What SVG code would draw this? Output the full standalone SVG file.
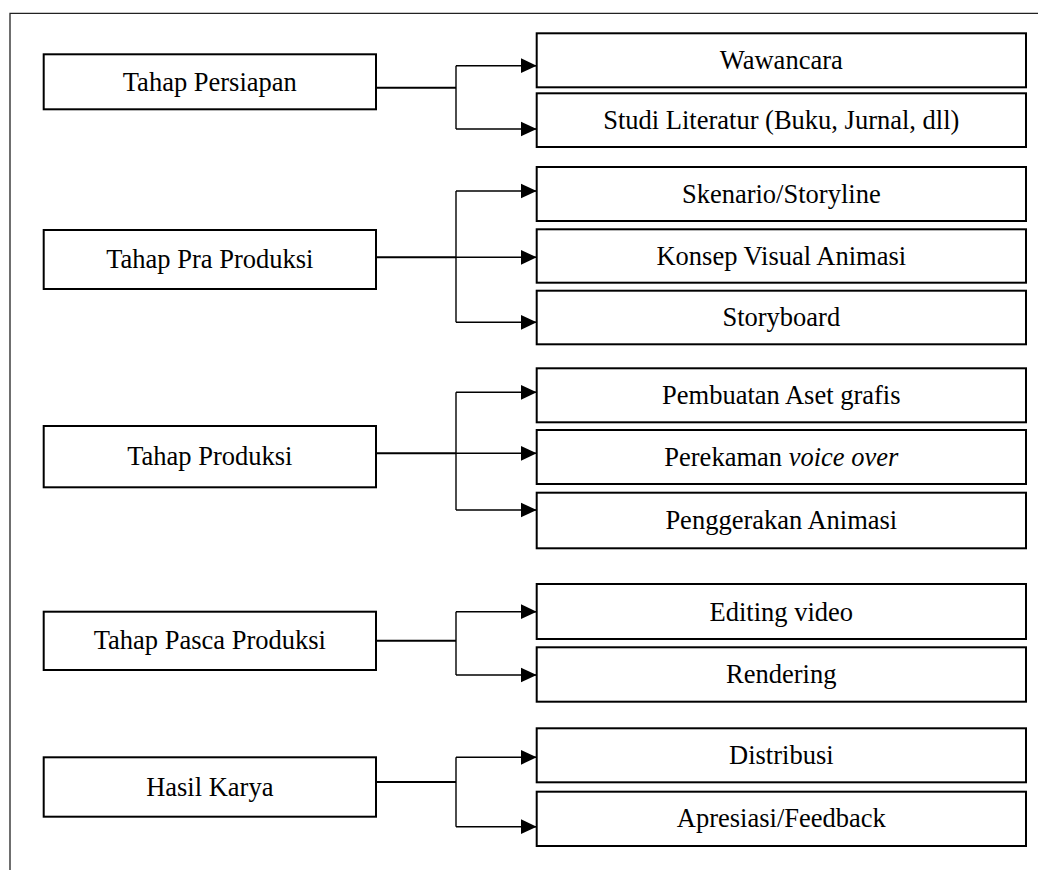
<svg xmlns="http://www.w3.org/2000/svg" width="1038" height="870" viewBox="0 0 1038 870">
<defs>
<style>
.box{fill:#fff;stroke:#000;stroke-width:2}
.t{font-family:"Liberation Serif","Times New Roman",serif;font-size:26.5px;fill:#000;text-anchor:middle}
.main{fill:none;stroke:#000;stroke-width:2}
.br{fill:none;stroke:#000;stroke-width:1.4}
.arr{fill:none;stroke:#000;stroke-width:1.4;marker-end:url(#ah)}
</style>
<marker id="ah" markerUnits="userSpaceOnUse" markerWidth="16" markerHeight="16" viewBox="0 0 16 16" refX="16" refY="8" orient="auto">
<path d="M0,0.5 L16,8 L0,15.5 z" fill="#000"/>
</marker>
</defs>
<rect width="1038" height="870" fill="#fff"/>
<path d="M10,870 V13.3 H1038" fill="none" stroke="#222" stroke-width="1.3"/>

<g id="connectors">
<path class="main" d="M376,87.7 H456"/>
<path class="br" d="M456,65.7 V129"/>
<path class="arr" d="M456,65.7 H536.7"/>
<path class="arr" d="M456,129 H536.7"/>

<path class="main" d="M376,257.3 H456"/>
<path class="br" d="M456,191 V322.3"/>
<path class="arr" d="M456,191 H536.7"/>
<path class="arr" d="M456,257.3 H536.7"/>
<path class="arr" d="M456,322.3 H536.7"/>

<path class="main" d="M376,453.3 H456"/>
<path class="br" d="M456,392.3 V510"/>
<path class="arr" d="M456,392.3 H536.7"/>
<path class="arr" d="M456,453.3 H536.7"/>
<path class="arr" d="M456,510 H536.7"/>

<path class="main" d="M376,640.7 H456"/>
<path class="br" d="M456,611.7 V675"/>
<path class="arr" d="M456,611.7 H536.7"/>
<path class="arr" d="M456,675 H536.7"/>

<path class="main" d="M376,782 H456"/>
<path class="br" d="M456,757.3 V826.7"/>
<path class="arr" d="M456,757.3 H536.7"/>
<path class="arr" d="M456,826.7 H536.7"/>
</g>

<g id="tahap-persiapan"><rect class="box" x="43.7" y="54.3" width="332.3" height="55"/><text class="t" x="209.8" y="90.5">Tahap Persiapan</text></g>
<g id="tahap-pra-produksi"><rect class="box" x="43.7" y="230" width="332.3" height="59"/><text class="t" x="209.8" y="268.2">Tahap Pra Produksi</text></g>
<g id="tahap-produksi"><rect class="box" x="43.7" y="426" width="332.3" height="61.3"/><text class="t" x="209.8" y="464.5">Tahap Produksi</text></g>
<g id="tahap-pasca-produksi"><rect class="box" x="43.7" y="611.7" width="332.3" height="58.3"/><text class="t" x="209.8" y="648.7">Tahap Pasca Produksi</text></g>
<g id="hasil-karya"><rect class="box" x="43.7" y="757.3" width="332.3" height="59.4"/><text class="t" x="209.8" y="795.7">Hasil Karya</text></g>

<g id="wawancara"><rect class="box" x="536.7" y="33.3" width="489.3" height="54"/><text class="t" x="781.3" y="69">Wawancara</text></g>
<g id="studi-literatur"><rect class="box" x="536.7" y="93.3" width="489.3" height="53.7"/><text class="t" x="781.3" y="128.5">Studi Literatur (Buku, Jurnal, dll)</text></g>

<g id="skenario"><rect class="box" x="536.7" y="167" width="489.3" height="54"/><text class="t" x="781.3" y="202.7">Skenario/Storyline</text></g>
<g id="konsep-visual"><rect class="box" x="536.7" y="229.3" width="489.3" height="53.4"/><text class="t" x="781.3" y="264.7">Konsep Visual Animasi</text></g>
<g id="storyboard"><rect class="box" x="536.7" y="290.7" width="489.3" height="53.6"/><text class="t" x="781.3" y="326.2">Storyboard</text></g>

<g id="pembuatan-aset"><rect class="box" x="536.7" y="368.3" width="489.3" height="54"/><text class="t" x="781.3" y="404">Pembuatan Aset grafis</text></g>
<g id="perekaman"><rect class="box" x="536.7" y="430" width="489.3" height="54"/><text class="t" x="781.3" y="465.7">Perekaman <tspan font-style="italic">voice over</tspan></text></g>
<g id="penggerakan"><rect class="box" x="536.7" y="492.7" width="489.3" height="55.6"/><text class="t" x="781.3" y="529.2">Penggerakan Animasi</text></g>

<g id="editing-video"><rect class="box" x="536.7" y="584" width="489.3" height="55"/><text class="t" x="781.3" y="620.7">Editing video</text></g>
<g id="rendering"><rect class="box" x="536.7" y="647.3" width="489.3" height="54.4"/><text class="t" x="781.3" y="683.3">Rendering</text></g>

<g id="distribusi"><rect class="box" x="536.7" y="728.3" width="489.3" height="54"/><text class="t" x="781.3" y="764.3">Distribusi</text></g>
<g id="apresiasi"><rect class="box" x="536.7" y="791.7" width="489.3" height="54.3"/><text class="t" x="781.3" y="827.3">Apresiasi/Feedback</text></g>
</svg>
